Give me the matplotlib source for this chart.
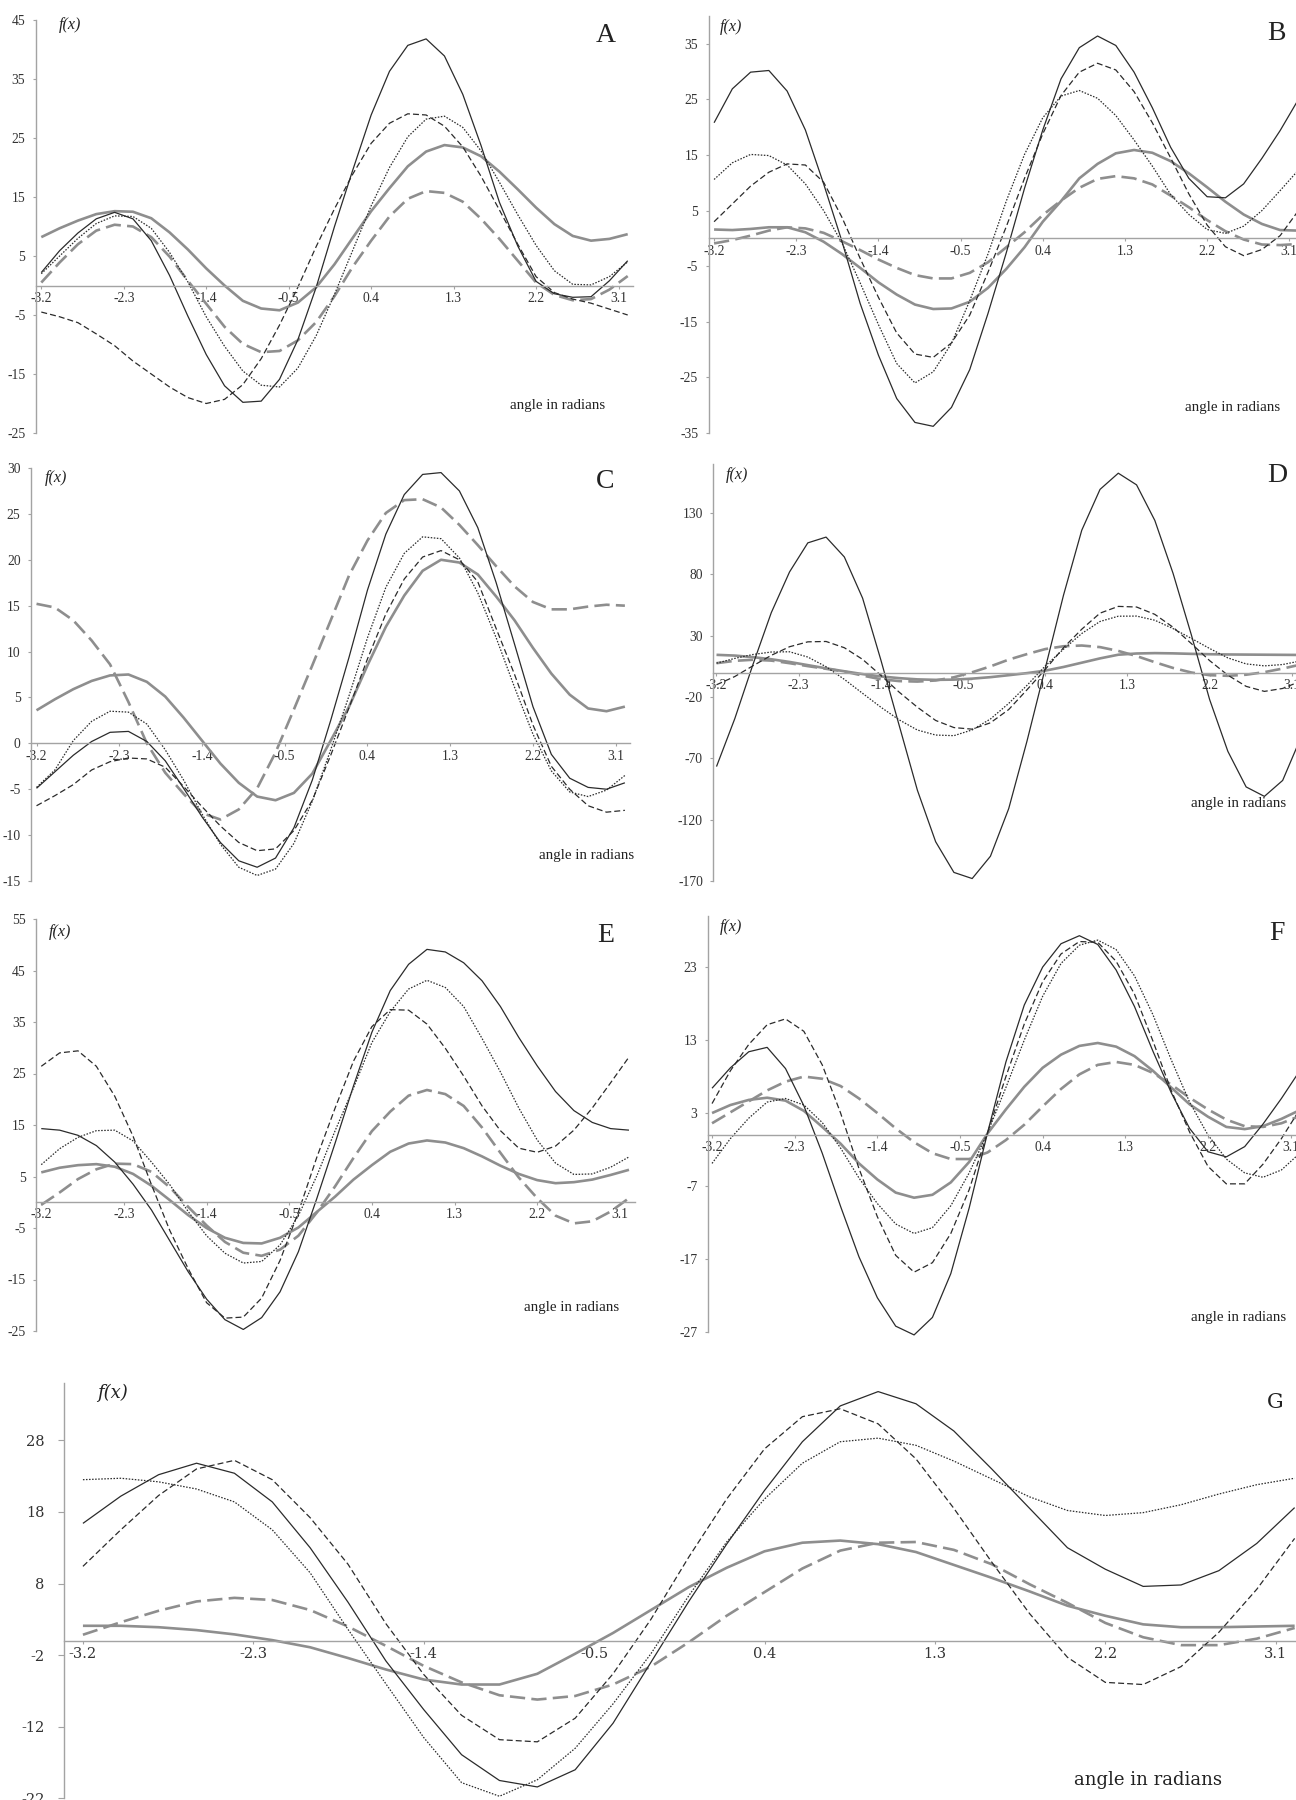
import matplotlib.pyplot as plt

plt.rcParams['lines.scale_dashes'] = False
plt.rcParams['lines.solid_joinstyle'] = 'round'
plt.rcParams['lines.dash_joinstyle'] = 'round'
plt.rcParams['font.family'] = ['Liberation Serif', 'DejaVu Serif']

W, H = 1296, 1800

# category axis (angle in radians), every other point
angle = [-3.2, -3.0, -2.8, -2.6, -2.4, -2.2, -2.0, -1.8, -1.6, -1.4, -1.2,
         -1.0, -0.8, -0.6, -0.4, -0.2, 0.0, 0.2, 0.4, 0.6, 0.8, 1.0,
         1.2, 1.4, 1.6, 1.8, 2.0, 2.2, 2.4, 2.6, 2.8, 3.0, 3.2]
tick_angles = [-3.2, -2.3, -1.4, -0.5, 0.4, 1.3, 2.2, 3.1]

# panel A
a_solid = [2.2, 5.9, 8.9, 11.3, 12.4, 11.3, 7.6, 1.7, -5.2, -11.7, -17.0, -19.8, -19.6, -15.9, -9.2, -0.3, 10.0,
           19.6, 28.9, 36.3, 40.7, 41.8, 38.9, 32.4, 23.7, 14.1, 6.7, 0.7, -1.4, -2.0, -1.9, 0.8, 4.2]
a_dash = [-4.5, -5.3, -6.3, -8.2, -10.2, -12.8, -15.0, -17.2, -19.0, -20.0, -19.3, -16.8, -12.4, -6.7, -0.3, 6.6,
          13.0, 18.9, 24.1, 27.5, 29.1, 28.9, 27.0, 23.5, 18.5, 12.8, 7.0, 1.5, -1.2, -2.3, -3.0, -4.0, -5.0]
a_dot = [2.0, 5.0, 8.0, 10.5, 11.8, 11.7, 9.7, 5.6, 0.6, -5.3, -10.3, -14.5, -16.9, -17.2, -14.0, -8.5, -1.5,
         6.0, 13.5, 20.0, 25.2, 28.2, 28.7, 26.8, 22.8, 17.5, 12.0, 6.8, 2.5, 0.2, 0.1, 1.5, 4.0]
a_grey = [8.2, 9.7, 11.0, 12.1, 12.6, 12.5, 11.4, 9.0, 6.1, 2.9, 0.0, -2.6, -3.9, -4.2, -2.9, -0.3, 3.6,
          8.1, 12.6, 16.5, 20.2, 22.7, 23.8, 23.4, 21.9, 19.3, 16.3, 13.2, 10.4, 8.4, 7.6, 7.9, 8.7]
a_grey_dash = [0.5, 3.9, 7.0, 9.3, 10.3, 10.0, 8.2, 4.9, 0.8, -3.1, -7.0, -9.9, -11.3, -11.1, -9.3, -6.2, -1.8,
               3.2, 7.6, 11.7, 14.7, 16.0, 15.7, 14.2, 11.3, 7.9, 4.2, 0.5, -1.6, -2.5, -2.3, -0.7, 1.6]

# panel B
b_solid = [20.8, 26.9, 29.9, 30.2, 26.5, 19.5, 9.8, -0.5, -11.7, -21.0, -28.8, -33.1, -33.8, -30.4, -23.6, -13.5,
           -2.6, 9.0, 19.5, 28.7, 34.3, 36.4, 34.7, 29.9, 23.5, 16.4, 10.8, 7.5, 7.3, 9.8, 14.4, 19.4, 25.0]
b_dash = [3.0, 6.2, 9.4, 11.9, 13.4, 13.2, 10.1, 3.8, -3.6, -10.6, -17.0, -20.8, -21.4, -18.8, -13.8, -6.1,
          2.1, 10.8, 18.8, 25.7, 29.9, 31.5, 30.3, 26.4, 20.8, 14.5, 8.0, 2.4, -1.5, -3.1, -2.0, 0.5, 5.0]
b_dot = [10.6, 13.6, 15.1, 14.9, 13.2, 9.8, 5.0, -0.8, -8.0, -15.5, -22.5, -26.0, -24.0, -18.9, -11.2, -2.8,
         6.7, 15.1, 21.7, 25.6, 26.6, 25.2, 22.1, 17.7, 13.0, 7.9, 4.3, 1.6, 0.9, 2.2, 5.0, 8.6, 12.3]
b_grey = [1.6, 1.5, 1.7, 2.0, 2.0, 1.1, -0.6, -2.8, -5.3, -7.9, -10.1, -11.9, -12.7, -12.6, -11.4, -8.9,
          -5.5, -1.6, 3.0, 6.7, 10.8, 13.4, 15.3, 15.9, 15.4, 13.9, 11.7, 9.2, 6.6, 4.3, 2.6, 1.5, 1.4]
b_grey_dash = [-0.9, -0.3, 0.5, 1.4, 2.0, 1.8, 1.0, -0.5, -2.1, -3.8, -5.3, -6.6, -7.2, -7.2, -6.2, -4.3,
               -1.6, 1.1, 4.2, 6.8, 9.1, 10.7, 11.2, 10.8, 9.7, 7.7, 5.6, 3.3, 1.3, -0.2, -1.1, -1.2, -1.0]

# panel C
c_solid = [-4.9, -3.1, -1.3, 0.2, 1.2, 1.3, 0.2, -1.9, -4.9, -8.0, -10.8, -12.8, -13.5, -12.5, -9.2, -4.0,
           2.5, 9.4, 16.7, 22.8, 27.1, 29.3, 29.5, 27.5, 23.5, 17.5, 10.8, 4.0, -1.2, -3.8, -4.8, -5.0, -4.3]
c_dash = [-6.8, -5.7, -4.5, -2.9, -2.0, -1.6, -1.7, -2.6, -4.7, -6.9, -9.0, -10.8, -11.7, -11.5, -9.5, -6.2,
          -1.3, 3.9, 9.2, 14.1, 17.9, 20.3, 21.0, 20.0, 17.6, 12.5, 7.5, 2.0, -2.5, -5.0, -6.8, -7.5, -7.3]
c_dot = [-4.8, -2.9, 0.3, 2.4, 3.5, 3.4, 2.1, -0.7, -4.0, -7.7, -11.0, -13.5, -14.4, -13.7, -10.9, -6.3,
         -0.7, 5.2, 11.5, 17.0, 20.7, 22.5, 22.3, 20.2, 16.4, 11.5, 6.1, 1.0, -3.0, -5.3, -5.8, -5.1, -3.5]
c_grey = [3.6, 4.8, 5.9, 6.8, 7.4, 7.5, 6.7, 5.1, 2.8, 0.3, -2.2, -4.3, -5.8, -6.2, -5.4, -3.3,
          0.3, 4.0, 8.5, 12.7, 16.1, 18.8, 20.0, 19.7, 18.4, 16.0, 13.4, 10.4, 7.6, 5.3, 3.8, 3.5, 4.0]
c_grey_dash = [15.2, 14.8, 13.4, 11.2, 8.6, 4.5, 0.0, -3.2, -5.5, -7.6, -8.3, -7.2, -4.9, -1.0, 3.7, 8.5,
               13.4, 18.3, 22.1, 25.1, 26.5, 26.6, 25.7, 23.8, 21.6, 19.3, 17.1, 15.4, 14.6, 14.6, 14.9, 15.1, 15.0]

# panel D
d_solid = [-76.7, -37.7, 6.7, 48.8, 82.0, 105.7, 110.4, 94.2, 60.6, 10.2, -43.0, -96.0, -138.0, -163.0, -168.0,
           -149.8, -111.0, -56.0, 3.4, 63.0, 116.0, 149.3, 162.5, 153.0, 124.0, 80.8, 30.7, -22.0, -64.3, -93.3,
           -101.0, -88.0, -53.0]
d_dash = [-10.0, -3.3, 5.5, 14.0, 21.0, 25.0, 25.3, 20.2, 10.7, -2.3, -16.0, -28.3, -39.1, -44.9, -46.2, -41.0,
          -30.2, -14.1, 2.5, 20.2, 35.3, 48.4, 53.9, 53.4, 47.4, 36.9, 23.6, 9.7, -2.2, -11.3, -15.4, -13.0, -7.0]
d_dot = [7.6, 11.5, 14.7, 16.7, 16.9, 12.6, 4.7, -5.6, -17.0, -28.3, -38.6, -46.9, -51.0, -51.5, -46.8, -37.9,
         -25.2, -10.5, 5.3, 19.0, 31.8, 41.6, 45.9, 46.0, 42.6, 35.8, 27.8, 19.6, 11.9, 7.0, 5.4, 6.5, 9.5]
d_grey = [14.4, 13.8, 12.5, 10.8, 8.6, 6.0, 3.4, 1.0, -1.3, -3.2, -4.6, -5.6, -6.0, -5.8, -5.0, -3.8,
          -2.2, -0.5, 1.5, 4.5, 8.0, 11.5, 14.5, 15.5, 15.8, 15.6, 15.2, 14.9, 14.7, 14.6, 14.5, 14.4, 14.3]
d_grey_dash = [7.6, 9.5, 10.4, 9.7, 7.6, 5.2, 3.0, 0.8, -2.5, -5.5, -7.0, -7.4, -6.5, -3.9, 0.2, 5.0,
               10.5, 15.0, 19.1, 21.4, 22.0, 20.7, 17.6, 13.4, 8.4, 3.7, 0.0, -2.2, -2.7, -1.8, 0.3, 3.2, 6.5]

# panel E
e_solid = [14.3, 14.0, 13.0, 11.0, 7.8, 3.5, -1.5, -7.5, -13.5, -18.8, -22.8, -24.7, -22.4, -17.4, -9.6, 0.7,
           11.5, 22.6, 33.0, 41.1, 46.2, 49.1, 48.6, 46.5, 43.0, 38.0, 32.0, 26.5, 21.5, 17.8, 15.5, 14.3, 14.0]
e_dash = [26.4, 29.0, 29.4, 26.4, 20.6, 12.8, 3.4, -5.5, -12.9, -19.5, -22.5, -22.3, -18.6, -11.3, -1.9, 8.7,
          18.3, 27.4, 34.1, 37.4, 37.3, 34.6, 29.9, 24.5, 18.7, 13.9, 10.5, 9.7, 10.9, 14.0, 18.3, 23.2, 28.2]
e_dot = [7.3, 10.4, 12.6, 13.9, 14.0, 11.9, 7.8, 3.4, -1.8, -6.5, -9.9, -11.8, -11.5, -8.3, -2.6, 5.1,
         13.9, 22.2, 31.0, 37.0, 41.4, 43.1, 41.7, 38.0, 31.8, 25.3, 18.3, 12.1, 7.6, 5.4, 5.5, 6.8, 8.8]
e_grey = [5.8, 6.7, 7.2, 7.4, 6.9, 5.5, 3.2, 0.4, -2.5, -5.0, -6.9, -7.9, -8.0, -6.9, -4.9, -1.9,
          1.1, 4.4, 7.2, 9.8, 11.4, 12.0, 11.6, 10.5, 8.9, 7.1, 5.5, 4.3, 3.7, 3.9, 4.4, 5.3, 6.3]
e_grey_dash = [-0.5, 1.9, 4.5, 6.4, 7.5, 7.4, 5.9, 2.9, -0.9, -4.5, -7.7, -9.8, -10.4, -9.2, -6.5, -2.0,
               3.1, 8.6, 13.8, 17.6, 20.7, 21.8, 21.0, 18.7, 14.5, 9.6, 4.8, 0.8, -2.6, -4.1, -3.7, -1.8, 0.8]

# panel F
f_solid = [6.4, 9.2, 11.4, 12.0, 9.1, 4.0, -2.5, -9.8, -16.7, -22.3, -26.2, -27.4, -25.0, -19.0, -10.0, 0.3,
           10.0, 17.8, 23.0, 26.2, 27.3, 26.1, 22.6, 17.6, 11.5, 5.8, 0.9, -2.3, -3.0, -1.6, 1.5, 5.0, 8.8]
f_dash = [4.3, 8.8, 12.4, 15.1, 15.9, 14.2, 9.6, 3.0, -4.6, -11.2, -16.5, -18.8, -17.5, -13.5, -7.5, 0.3,
          8.0, 15.2, 21.0, 24.8, 26.5, 26.4, 23.8, 19.3, 12.9, 6.1, 0.4, -4.3, -6.7, -6.7, -4.0, -0.5, 3.5]
f_dot = [-3.9, -0.5, 2.3, 4.5, 5.0, 4.1, 1.7, -1.8, -5.9, -9.4, -12.2, -13.5, -12.7, -9.7, -5.2, 0.3,
         6.5, 13.0, 19.0, 23.5, 26.0, 26.7, 25.4, 21.8, 16.5, 10.3, 4.5, 0.0, -3.3, -5.2, -5.8, -4.8, -2.5]
f_grey = [3.0, 4.1, 4.8, 5.1, 4.7, 3.3, 1.1, -1.2, -3.9, -6.1, -7.9, -8.6, -8.2, -6.5, -3.7, 0.2,
          3.5, 6.6, 9.2, 11.0, 12.2, 12.6, 12.1, 10.8, 8.8, 6.5, 4.2, 2.5, 1.1, 0.8, 1.2, 2.2, 3.4]
f_grey_dash = [1.6, 3.1, 4.6, 6.1, 7.3, 8.0, 7.7, 6.7, 5.0, 3.0, 0.9, -1.0, -2.5, -3.3, -3.3, -2.4,
               -0.7, 1.4, 3.9, 6.3, 8.3, 9.6, 10.0, 9.6, 8.5, 6.9, 5.1, 3.5, 2.1, 1.2, 1.1, 1.6, 2.6]

# panel G
g_solid = [16.4, 20.2, 23.2, 24.8, 23.4, 19.4, 13.0, 5.4, -2.8, -9.6, -15.9, -19.5, -20.4, -18.0, -11.5, -3.0,
           5.5, 13.5, 21.0, 27.8, 32.8, 34.8, 33.1, 29.3, 24.0, 18.5, 13.0, 10.0, 7.6, 7.8, 9.8, 13.6, 18.6]
g_dash = [10.4, 15.5, 20.3, 24.0, 25.2, 22.5, 17.2, 10.7, 2.4, -4.7, -10.4, -13.8, -14.1, -10.8, -4.6, 3.0,
          11.7, 19.8, 26.8, 31.3, 32.4, 30.3, 25.4, 18.5, 11.0, 3.8, -2.3, -5.8, -6.1, -3.6, 1.2, 7.2, 14.3]
g_dot = [22.5, 22.7, 22.2, 21.2, 19.4, 15.5, 9.5, 1.6, -6.0, -13.5, -19.8, -21.7, -19.4, -15.0, -8.8, -1.8,
         6.3, 13.8, 19.8, 24.8, 27.8, 28.3, 27.3, 25.1, 22.6, 20.1, 18.2, 17.5, 17.9, 19.0, 20.5, 21.8, 22.7]
g_grey = [2.1, 2.1, 1.9, 1.5, 0.9, 0.1, -0.9, -2.4, -4.0, -5.4, -6.1, -6.1, -4.6, -1.8, 1.1, 4.3,
          7.5, 10.2, 12.5, 13.7, 14.0, 13.5, 12.4, 10.6, 8.8, 6.9, 4.9, 3.5, 2.3, 1.9, 1.9, 2.0, 2.1]
g_grey_dash = [0.85, 2.6, 4.2, 5.5, 6.0, 5.7, 4.3, 2.0, -0.7, -3.5, -5.8, -7.6, -8.2, -7.7, -6.1, -3.6,
               -0.2, 3.5, 6.8, 10.1, 12.6, 13.7, 13.8, 12.7, 10.7, 7.9, 5.3, 2.5, 0.5, -0.6, -0.6, 0.3, 1.8]

# y axis ticks of each panel
a_ticks = [-25, -15, -5, 5, 15, 25, 35, 45]
b_ticks = [-35, -25, -15, -5, 5, 15, 25, 35]
c_ticks = [-15, -10, -5, 0, 5, 10, 15, 20, 25, 30]
d_ticks = [-170, -120, -70, -20, 30, 80, 130]
e_ticks = [-25, -15, -5, 5, 15, 25, 35, 45, 55]
f_ticks = [-27, -17, -7, 3, 13, 23]
g_ticks = [-22, -12, -2, 8, 18, 28]

black = '#2b2b2b'
grey = '#8e8e8e'
axis_col = '#a3a3a3'
styles = [
    dict(color=black, lw=0.9, ls='-'),
    dict(color=black, lw=0.9, dashes=(4.3, 2.2)),
    dict(color=black, lw=0.9, dashes=(1.1, 1.1)),
    dict(color=grey, lw=1.9, ls='-'),
    dict(color=grey, lw=1.9, dashes=(11, 4.5)),
]

# letter, curves, ylim, yticks, xlim, (left, right, top, bottom) px, letter pos, f(x) pos, label pos, big
panels = [
    ('A', [a_solid, a_dash, a_dot, a_grey, a_grey_dash], (-25, 45), a_ticks, (-3.26, 3.26),
     (35.8, 633.2, 20, 433), (606, 35), (70, 25), (558, 406), False),
    ('B', [b_solid, b_dash, b_dot, b_grey, b_grey_dash], (-35, 40), b_ticks, (-3.26, 3.26),
     (708.6, 1303.9, 16, 433), (1276, 33), (731, 27), (1233, 408), False),
    ('C', [c_solid, c_dash, c_dot, c_grey, c_grey_dash], (-15, 30), c_ticks, (-3.26, 3.26),
     (31, 630.4, 468, 881), (605, 482), (56, 478), (587, 856), False),
    ('D', [d_solid, d_dash, d_dot, d_grey, d_grey_dash], (-170, 170), d_ticks, (-3.235, 3.26),
     (713.3, 1306.4, 464, 881), (1277, 475), (737, 475), (1239, 803), False),
    ('E', [e_solid, e_dash, e_dot, e_grey, e_grey_dash], (-25, 55), e_ticks, (-3.253, 3.26),
     (36.4, 634.5, 919, 1331), (606, 935), (60, 932), (572, 1307), False),
    ('F', [f_solid, f_dash, f_dot, f_grey, f_grey_dash], (-27, 30), f_ticks, (-3.245, 3.26),
     (707.9, 1305.3, 916, 1332), (1277, 933), (731, 927), (1239, 1317), False),
    ('G', [g_solid, g_dash, g_dot, g_grey, g_grey_dash], (-22, 36), g_ticks, (-3.3, 3.26),
     (64, 1306, 1383, 1798.4), (1275, 1403), (112, 1393), (1148, 1780), True),
]

fig = plt.figure(figsize=(W / 100, H / 100), dpi=100)
fig.patch.set_facecolor('white')


def ftext(px, py, s, **kw):
    fig.text(px / W, 1 - py / H, s, ha='center', va='center', color='#222222', **kw)


for (letter, curves, ylim, yticks, xlim, box, lpos, fpos, apos, big) in panels:
    l, r, t, b = box
    ax = fig.add_axes([l / W, 1 - b / H, (r - l) / W, (b - t) / H])
    ax.set_facecolor('none')
    for i in [3, 4, 0, 1, 2]:
        ax.plot(angle, curves[i], clip_on=False, solid_capstyle='butt', **styles[i])
    ax.set_xlim(*xlim)
    ax.set_ylim(*ylim)

    for side in ['top', 'right']:
        ax.spines[side].set_visible(False)
    ax.spines['bottom'].set_position(('data', 0))
    for side in ['bottom', 'left']:
        ax.spines[side].set_color(axis_col)
        ax.spines[side].set_linewidth(1.0)

    fam = 'DejaVu Serif' if big else 'Liberation Serif'
    size = 10.5 if big else 9.8
    ax.set_xticks(tick_angles)
    ax.set_xticklabels([f'{v:.1f}' for v in tick_angles], fontfamily=fam, fontsize=size, color='#333333')
    ax.set_yticks(yticks)
    ax.set_yticklabels([str(v) for v in yticks], fontfamily=fam, fontsize=size, color='#333333')
    ax.tick_params(axis='x', direction='out', length=2.5, width=0.8, color=axis_col, pad=2)
    ax.tick_params(axis='y', direction='out', length=4 if big else 2.5, width=0.8, color=axis_col,
                   pad=10 if big else 5)

    if big:
        ftext(*lpos, letter, fontsize=15, fontfamily='DejaVu Serif')
        ftext(*fpos, 'f(x)', fontsize=13, fontfamily='DejaVu Serif', style='italic')
        ftext(*apos, 'angle in radians', fontsize=13, fontfamily='DejaVu Serif')
    else:
        ftext(*lpos, letter, fontsize=20, fontfamily='Liberation Serif')
        ftext(*fpos, 'f(x)', fontsize=11.5, fontfamily='Liberation Serif', style='italic')
        ftext(*apos, 'angle in radians', fontsize=10.8, fontfamily='Liberation Serif')

fig.savefig('out.png', dpi=100, facecolor='white')
